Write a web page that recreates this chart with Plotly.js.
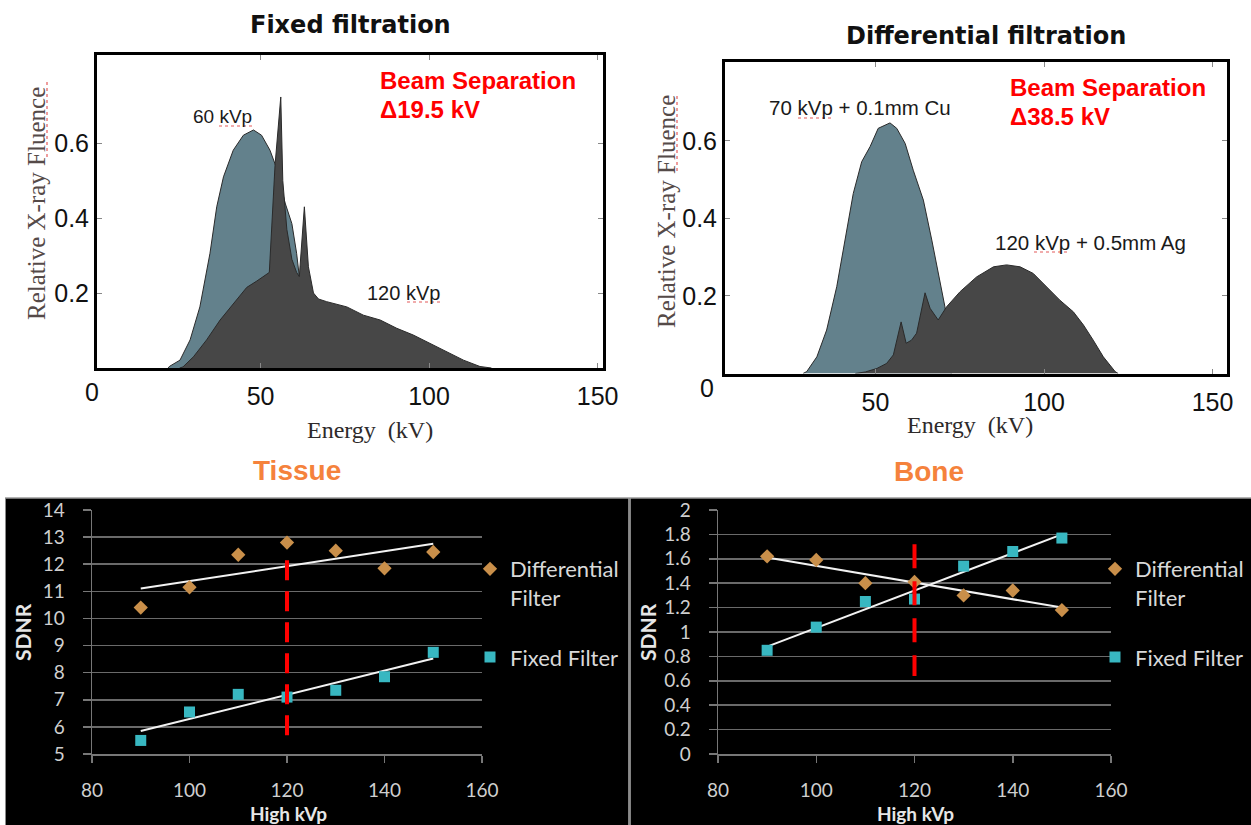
<!DOCTYPE html>
<html>
<head>
<meta charset="utf-8">
<script src="https://cdn.plot.ly/plotly-3.0.1.min.js"></script>
<style>html,body{margin:0;padding:0;background:#fff;}#chart{width:1251px;height:825px;}</style>
</head>
<body>
<div id="chart"></div>
<script>
// ---------- Data: spectra (top panels) ----------
const fixed60_kv  = [22.5, 23.1, 26.1, 29.1, 32.0, 35.0, 37.0, 39.0, 41.9, 44.9, 47.9, 50.3, 52.8, 54.6, 57.3, 59.3, 60.7, 61.5, 62.3, 63.0];
const fixed60_val = [0, 0.005, 0.021, 0.075, 0.163, 0.306, 0.43, 0.51, 0.581, 0.621, 0.635, 0.621, 0.581, 0.537, 0.44, 0.385, 0.306, 0.244, 0.21, 0];

const fixed120_kv  = [26.0, 27.0, 30.1, 34.0, 38.0, 41.9, 45.9, 48.9, 52.3, 52.6, 54.3, 56.0, 56.6, 57.8, 59.3, 60.7, 61.5, 63.0, 64.2, 65.7, 67.2, 69.6, 75.6, 80.5, 85.5, 90.4, 95.3, 100.3, 105.2, 110.2, 115.1, 118.5];
const fixed120_val = [0, 0.003, 0.03, 0.075, 0.128, 0.17, 0.215, 0.232, 0.252, 0.255, 0.541, 0.723, 0.50, 0.37, 0.29, 0.255, 0.244, 0.43, 0.27, 0.2, 0.184, 0.177, 0.163, 0.141, 0.128, 0.106, 0.088, 0.066, 0.044, 0.021, 0.004, 0];

const diff70_kv  = [28.5, 29.6, 32.6, 35.5, 38.5, 41.5, 43.4, 45.9, 48.4, 50.8, 54.3, 56.3, 58.8, 61.2, 64.2, 66.7, 68.6, 70.6, 71.5, 72.5];
const diff70_val = [0, 0.005, 0.043, 0.112, 0.224, 0.378, 0.464, 0.546, 0.585, 0.632, 0.646, 0.632, 0.593, 0.524, 0.447, 0.344, 0.258, 0.172, 0.1, 0];

const diff120_kv  = [44, 47, 50.4, 53.3, 55.3, 57.6, 59.1, 60.7, 62.2, 64.7, 66.2, 68.6, 71.1, 75.1, 80.0, 85.0, 88.9, 92.9, 96.8, 100.8, 104.7, 108.7, 111.7, 114.6, 117.6, 121.1, 122];
const diff120_val = [0, 0.004, 0.013, 0.026, 0.048, 0.133, 0.078, 0.086, 0.104, 0.208, 0.168, 0.138, 0.172, 0.211, 0.249, 0.275, 0.28, 0.275, 0.258, 0.224, 0.189, 0.159, 0.125, 0.086, 0.043, 0.005, 0];

const energyTicks = [50, 100, 150];
const fluenceTicks = [0.2, 0.4, 0.6];
const fluenceTickText = ['0.2', '0.4', '0.6'];

// ---------- Data: SDNR (bottom panels) ----------
const highKvp = [90, 100, 110, 120, 130, 140, 150];
const tissueDifferential = [10.4, 11.15, 12.35, 12.8, 12.5, 11.85, 12.45];
const tissueFixed        = [5.5, 6.55, 7.2, 7.1, 7.35, 7.85, 8.75];
const boneDifferential   = [1.62, 1.59, 1.40, 1.41, 1.30, 1.34, 1.18];
const boneFixed          = [0.85, 1.04, 1.25, 1.27, 1.54, 1.66, 1.77];

const markerLineX  = [120, 120];
const tissueMarkerY = [12.15, 5.62];
const boneMarkerY   = [1.72, 0.64];

// ---------- helpers ----------
function linfit(xs, ys) {
  const n = xs.length;
  const mx = xs.reduce((a, b) => a + b, 0) / n;
  const my = ys.reduce((a, b) => a + b, 0) / n;
  let sxy = 0, sxx = 0;
  for (let i = 0; i < n; i++) { sxy += (xs[i] - mx) * (ys[i] - my); sxx += (xs[i] - mx) ** 2; }
  const k = sxy / sxx, b = my - k * mx;
  const x0 = Math.min(...xs), x1 = Math.max(...xs);
  return { x: [x0, x1], y: [k * x0 + b, k * x1 + b] };
}
const W = 1251, H = 825;
const px = v => v / W;
const py = v => 1 - v / H;

const BLUE = '#63818c', DARK = '#474747', EDGE = '#2a2a2a';
const TAN = '#c98f4a', TEAL = '#38b7c1';

const traces = [
  {x: fixed60_kv, y: fixed60_val, type: 'scatter', mode: 'lines', fill: 'tozeroy', fillcolor: BLUE, line: {color: EDGE, width: 1}, xaxis: 'x', yaxis: 'y', showlegend: false, hoverinfo: 'skip'},
  {x: fixed120_kv, y: fixed120_val, type: 'scatter', mode: 'lines', fill: 'tozeroy', fillcolor: DARK, line: {color: EDGE, width: 1}, xaxis: 'x', yaxis: 'y', showlegend: false, hoverinfo: 'skip'},
  {x: diff70_kv, y: diff70_val, type: 'scatter', mode: 'lines', fill: 'tozeroy', fillcolor: BLUE, line: {color: EDGE, width: 1}, xaxis: 'x2', yaxis: 'y2', showlegend: false, hoverinfo: 'skip'},
  {x: diff120_kv, y: diff120_val, type: 'scatter', mode: 'lines', fill: 'tozeroy', fillcolor: DARK, line: {color: EDGE, width: 1}, xaxis: 'x2', yaxis: 'y2', showlegend: false, hoverinfo: 'skip'}
];

function sdnrTraces(xa, ya, diff, fixed, redY, legendName, dash) {
  const tD = linfit(highKvp, diff), tF = linfit(highKvp, fixed);
  return [
    {x: tD.x, y: tD.y, type: 'scatter', mode: 'lines', line: {color: '#f2f2f2', width: 2}, xaxis: xa, yaxis: ya, showlegend: false, hoverinfo: 'skip'},
    {x: tF.x, y: tF.y, type: 'scatter', mode: 'lines', line: {color: '#f2f2f2', width: 2}, xaxis: xa, yaxis: ya, showlegend: false, hoverinfo: 'skip'},
    {x: highKvp, y: diff, type: 'scatter', mode: 'markers', name: 'Differential<br>Filter', marker: {symbol: 'diamond', size: 11, color: TAN}, xaxis: xa, yaxis: ya, legend: legendName, legendgroup: 'd'},
    {x: highKvp, y: fixed, type: 'scatter', mode: 'markers', name: 'Fixed Filter', marker: {symbol: 'square', size: 11, color: TEAL}, xaxis: xa, yaxis: ya, legend: legendName, legendgroup: 'f'},
    {x: markerLineX, y: redY, type: 'scatter', mode: 'lines', line: {color: '#ff0000', width: 4, dash: dash}, xaxis: xa, yaxis: ya, showlegend: false, hoverinfo: 'skip'}
  ];
}
traces.push(...sdnrTraces('x3', 'y3', tissueDifferential, tissueFixed, tissueMarkerY, 'legend', '20px,11px'));
traces.push(...sdnrTraces('x4', 'y4', boneDifferential, boneFixed, boneMarkerY, 'legend2', '24px,13px'));

const topTickFont = {family: 'Arial, Liberation Sans, sans-serif', size: 25, color: '#111'};
function topX(domain, range, anchor) {
  return {domain, range, anchor, tickvals: energyTicks, ticks: 'inside', ticklen: 5, tickcolor: '#888',
    showline: true, linewidth: 3, linecolor: '#000', mirror: 'ticks', showgrid: false, zeroline: false,
    tickfont: topTickFont, ticklabelstandoff: 4, fixedrange: true};
}
function topY(domain, range, anchor) {
  return {domain, range, anchor, tickvals: fluenceTicks, ticktext: fluenceTickText, ticks: 'inside', ticklen: 5, tickcolor: '#888',
    showline: true, linewidth: 3, linecolor: '#000', mirror: 'ticks', showgrid: false, zeroline: false,
    tickfont: topTickFont, ticklabelstandoff: 0, fixedrange: true};
}
const botTickFont = {family: 'Lato, sans-serif', size: 19, color: '#cfcfcf'};
function botX(domain, anchor) {
  return {domain, anchor, range: [80, 160], tick0: 80, dtick: 20, ticks: 'outside', ticklen: 7, tickcolor: '#777', tickwidth: 1.5,
    showline: true, linecolor: '#777', linewidth: 1.5, showgrid: false, zeroline: false,
    tickfont: botTickFont, ticklabelstandoff: 12, fixedrange: true};
}
function botY(domain, anchor, range, dtick) {
  return {domain, anchor, range, tick0: range[0], dtick, ticks: 'outside', ticklen: 8, tickcolor: '#777', tickwidth: 1.5,
    showline: true, linecolor: '#777', linewidth: 1.5, showgrid: true, gridcolor: '#6a6a6a', gridwidth: 1.5, zeroline: false,
    tickfont: botTickFont, ticklabelstandoff: 14, fixedrange: true};
}

const legendBase = {bgcolor: 'rgba(0,0,0,0)', font: {family: 'Lato, sans-serif', size: 22, color: '#d9d9d9'},
  valign: 'top', tracegroupgap: 28, xanchor: 'left', yanchor: 'top', itemclick: false, itemdoubleclick: false};

const serif = 'Liberation Serif, Times New Roman, serif';
const ann = (x, y, text, font, extra) => Object.assign({xref: 'paper', yref: 'paper', x: px(x), y: py(y), xanchor: 'center', yanchor: 'middle', text, showarrow: false, font}, extra || {});
const arial = (size, color) => ({family: 'Arial, Liberation Sans, sans-serif', size, color});
const redBold = {family: 'Arial, Liberation Sans, sans-serif', size: 24, color: '#ff0000', weight: 'bold'};

const annotations = [
  ann(350, 25, 'Fixed filtration', {family: 'DejaVu Sans, sans-serif', size: 24, color: '#111', weight: 'bold'}),
  ann(986, 36, 'Differential filtration', {family: 'DejaVu Sans, sans-serif', size: 24, color: '#111', weight: 'bold'}),
  ann(378, 81, 'Beam Separation', redBold, {xanchor: 'left'}),
  ann(378, 110, 'Δ19.5 kV', redBold, {xanchor: 'left'}),
  ann(1008, 87, 'Beam Separation', redBold, {xanchor: 'left'}),
  ann(1008, 116, 'Δ38.5 kV', redBold, {xanchor: 'left'}),
  ann(222, 116, '60 kVp', arial(19, '#1a1a1a')),
  ann(403, 293, '120 kVp', arial(20, '#1a1a1a')),
  ann(860, 108, '70 kVp + 0.1mm Cu', arial(20.5, '#1a1a1a')),
  ann(1090, 242, '120 kVp + 0.5mm Ag', arial(20.5, '#1a1a1a')),
  ann(92, 392, '0', topTickFont),
  ann(707, 388, '0', topTickFont),
  ann(36, 204, 'Relative X-ray Fluence', {family: serif, size: 25, color: '#554a48'}, {textangle: -90}),
  ann(666, 212, 'Relative X-ray Fluence', {family: serif, size: 25, color: '#554a48'}, {textangle: -90}),
  ann(370, 430, 'Energy&nbsp;&nbsp;(kV)', {family: serif, size: 24, color: '#2e2a2a'}),
  ann(970, 425, 'Energy&nbsp;&nbsp;(kV)', {family: serif, size: 24, color: '#2e2a2a'}),
  ann(297, 470, 'Tissue', {family: 'Arial, Liberation Sans, sans-serif', size: 28, color: '#f5823c', weight: 'bold'}),
  ann(929, 471, 'Bone', {family: 'Arial, Liberation Sans, sans-serif', size: 28, color: '#f5823c', weight: 'bold'}),
  ann(22, 632, 'SDNR', {family: 'Lato, sans-serif', size: 21, color: '#e6e6e6', weight: 'bold'}, {textangle: -90}),
  ann(647, 632, 'SDNR', {family: 'Lato, sans-serif', size: 21, color: '#e6e6e6', weight: 'bold'}, {textangle: -90}),
  ann(288, 813, 'High kVp', {family: 'Lato, sans-serif', size: 19, color: '#e6e6e6', weight: 'bold'}),
  ann(915, 813, 'High kVp', {family: 'Lato, sans-serif', size: 19, color: '#e6e6e6', weight: 'bold'})
];

const squiggle = (x0, y0, x1, y1) => ({type: 'line', xref: 'paper', yref: 'paper', x0: px(x0), y0: py(y0), x1: px(x1), y1: py(y1), line: {color: '#e35b5b', width: 1.2, dash: 'dot'}});

const shapes = [
  {type: 'rect', xref: 'paper', yref: 'paper', x0: px(5), x1: px(628.5), y0: 0, y1: py(498), fillcolor: '#000', line: {width: 0}, layer: 'below'},
  {type: 'rect', xref: 'paper', yref: 'paper', x0: px(630.5), x1: 1, y0: 0, y1: py(498), fillcolor: '#000', line: {width: 0}, layer: 'below'},
  {type: 'line', xref: 'paper', yref: 'paper', x0: px(5), x1: 1, y0: py(498), y1: py(498), line: {color: '#9a9a9a', width: 1.5}, layer: 'below'},
  {type: 'line', xref: 'paper', yref: 'paper', x0: px(629.5), x1: px(629.5), y0: 0, y1: py(498), line: {color: '#8a8a8a', width: 1.5}, layer: 'below'},
  {type: 'line', xref: 'paper', yref: 'paper', x0: px(5.5), x1: px(5.5), y0: 0, y1: py(498), line: {color: '#8a8a8a', width: 1}, layer: 'below'},
  squiggle(219, 126, 254, 126),
  squiggle(407, 302, 441, 302),
  squiggle(798, 118, 832, 118),
  squiggle(1034, 252, 1069, 252),
  squiggle(47, 82, 47, 160),
  squiggle(677, 96, 677, 173)
];

const layout = {
  width: W, height: H, margin: {l: 0, r: 0, t: 0, b: 0},
  paper_bgcolor: '#ffffff', plot_bgcolor: 'rgba(0,0,0,0)',
  xaxis: topX([px(97), px(603)], [1.48, 151.6], 'y'),
  yaxis: topY([py(368), py(55)], [0, 0.835], 'x'),
  xaxis2: topX([px(725), px(1227)], [5.34, 154.3], 'y2'),
  yaxis2: topY([py(373.5), py(62)], [0, 0.803], 'x2'),
  xaxis3: botX([px(92), px(482)], 'y3'),
  yaxis3: botY([py(754), py(510)], 'x3', [5, 14], 1),
  xaxis4: botX([px(718), px(1111)], 'y4'),
  yaxis4: botY([py(754), py(510)], 'x4', [0, 2], 0.2),
  showlegend: true,
  legend: Object.assign({}, legendBase, {x: px(470), y: py(548)}),
  legend2: Object.assign({}, legendBase, {x: px(1095), y: py(548)}),
  annotations, shapes
};

Plotly.newPlot('chart', traces, layout, {displayModeBar: false, staticPlot: true});
</script>
</body>
</html>
